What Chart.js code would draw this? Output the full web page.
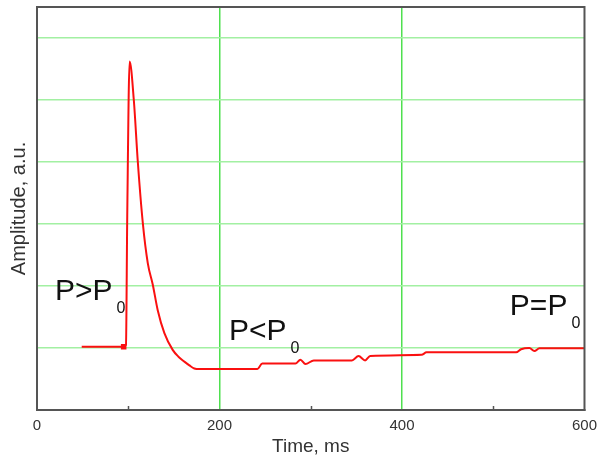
<!DOCTYPE html>
<html>
<head>
<meta charset="utf-8">
<title>Pressure pulse</title>
<script src="https://cdn.jsdelivr.net/npm/chart.js@4.4.1/dist/chart.umd.min.js"></script>
<style>
    html, body { margin: 0; padding: 0; background: #fff; }
    #pulse { display: block; }
</style>
</head>
<body>
<canvas id="pulse" width="604" height="461"></canvas>
<script>
(function() {
    'use strict';

    // signal trace, time in ms / amplitude in arbitrary units
    var times = [49, 95, 97.5, 98.9, 101.5, 106.1, 110.5, 116.0, 121.4, 126.9, 132.3, 139.6,
        148.7, 155, 161.5, 167, 172.4, 178, 241.5, 246.9, 283.3, 288.7, 294.2, 303.3,
        345.1, 352.4, 359.6, 365.1, 421.5, 426.9, 525.1, 530.5, 539.6, 545.1, 550.6, 600];
    var amps = [1.02, 1.02, 1.05, 3.13, 5.62, 5.00, 4.00, 3.01, 2.37, 2.02, 1.61, 1.24,
        0.97, 0.86, 0.78, 0.72, 0.67, 0.66, 0.66, 0.75, 0.75, 0.81, 0.74, 0.80,
        0.80, 0.87, 0.80, 0.87, 0.89, 0.93, 0.93, 0.98, 1.00, 0.95, 0.995, 0.995];
    var markerIndex = 1;

    var xTickLabels = [0, 200, 400, 600];
    var xGridValues = [200, 400];
    var xMinorTicks = [100, 300, 500];
    var yGridValues = [1, 2, 3, 4, 5, 6];

    // pressure annotations: main text, subscript, anchor (ms, a.u.)
    var noteTexts = ['P>P', 'P<P', 'P=P'];
    var noteSubs = ['0', '0', '0'];
    var noteTimes = [19.6, 210.5, 518.2];
    var noteAmps = [1.774, 1.129, 1.532];

    var FONT = '"Liberation Sans", Arial, Helvetica, sans-serif';
    var AXIS = '#555555';
    var RED = '#fa1010';

    var points = times.map(function(t, i) { return { x: t, y: amps[i] }; });

    var framePlugin = {
        id: 'frame',
        afterDraw: function(chart) {
            var ctx = chart.ctx;
            var a = chart.chartArea;
            var xs = chart.scales.x;
            ctx.save();
            ctx.strokeStyle = AXIS;
            ctx.lineWidth = 2;
            ctx.strokeRect(a.left, a.top, a.right - a.left, a.bottom - a.top);

            // small inner ticks on the time axis
            ctx.lineWidth = 1.5;
            xMinorTicks.forEach(function(v) {
                var px = Math.round(xs.getPixelForValue(v)) + 0.5;
                ctx.beginPath();
                ctx.moveTo(px, a.bottom);
                ctx.lineTo(px, a.bottom - 4);
                ctx.stroke();
            });
            ctx.restore();
        }
    };

    var notesPlugin = {
        id: 'notes',
        afterDatasetsDraw: function(chart) {
            var ctx = chart.ctx;
            var xs = chart.scales.x;
            var ys = chart.scales.y;
            ctx.save();
            ctx.fillStyle = '#111';
            ctx.textBaseline = 'alphabetic';
            ctx.textAlign = 'left';
            noteTexts.forEach(function(txt, i) {
                var px = xs.getPixelForValue(noteTimes[i]);
                var py = ys.getPixelForValue(noteAmps[i]);
                ctx.font = '30px ' + FONT;
                ctx.fillText(txt, px, py);
                var w = ctx.measureText(txt).width;
                ctx.font = '16px ' + FONT;
                ctx.fillText(noteSubs[i], px + w + 4, py + 13);
            });
            ctx.restore();
        }
    };

    new Chart(document.getElementById('pulse'), {
        type: 'line',
        data: {
            datasets: [{
                data: points,
                borderColor: RED,
                backgroundColor: RED,
                borderWidth: 2,
                cubicInterpolationMode: 'monotone',
                fill: false,
                pointStyle: 'rect',
                pointRadius: function(c) { return c.dataIndex === markerIndex ? 2.5 : 0; },
                pointHoverRadius: 0
            }]
        },
        options: {
            responsive: false,
            animation: false,
            devicePixelRatio: 1,
            layout: { padding: { top: 7, right: 17, left: 0, bottom: 0 } },
            plugins: {
                legend: { display: false },
                tooltip: { enabled: false }
            },
            scales: {
                x: {
                    type: 'linear',
                    min: 0,
                    max: 600,
                    afterFit: function(s) { s.height = 51; },
                    border: { display: true, color: AXIS, width: 2 },
                    grid: {
                        drawTicks: false,
                        lineWidth: 1.5,
                        color: function(c) {
                            return c.tick && xGridValues.indexOf(c.tick.value) >= 0 ? '#4fe04f' : 'rgba(0,0,0,0)';
                        }
                    },
                    ticks: {
                        stepSize: 100,
                        autoSkip: false,
                        maxRotation: 0,
                        padding: 7,
                        color: '#333',
                        font: { family: FONT, size: 15 },
                        callback: function(v) { return xTickLabels.indexOf(v) >= 0 ? String(v) : ''; }
                    },
                    title: {
                        display: true,
                        text: 'Time, ms',
                        color: '#333',
                        font: { family: FONT, size: 19 },
                        padding: { top: 0, bottom: 3 }
                    }
                },
                y: {
                    type: 'linear',
                    min: 0,
                    max: 6.5,
                    afterFit: function(s) { s.width = 37; },
                    border: { display: true, color: AXIS, width: 2 },
                    grid: {
                        drawTicks: false,
                        lineWidth: 1.5,
                        color: function(c) {
                            return c.tick && yGridValues.indexOf(c.tick.value) >= 0 ? '#a2f0a2' : 'rgba(0,0,0,0)';
                        }
                    },
                    ticks: { stepSize: 1, display: false },
                    title: {
                        display: true,
                        text: 'Amplitude, a.u.',
                        color: '#333',
                        font: { family: FONT, size: 20 },
                        padding: { top: 7, bottom: 0 }
                    }
                }
            }
        },
        plugins: [framePlugin, notesPlugin]
    });
})();
</script>
</body>
</html>
